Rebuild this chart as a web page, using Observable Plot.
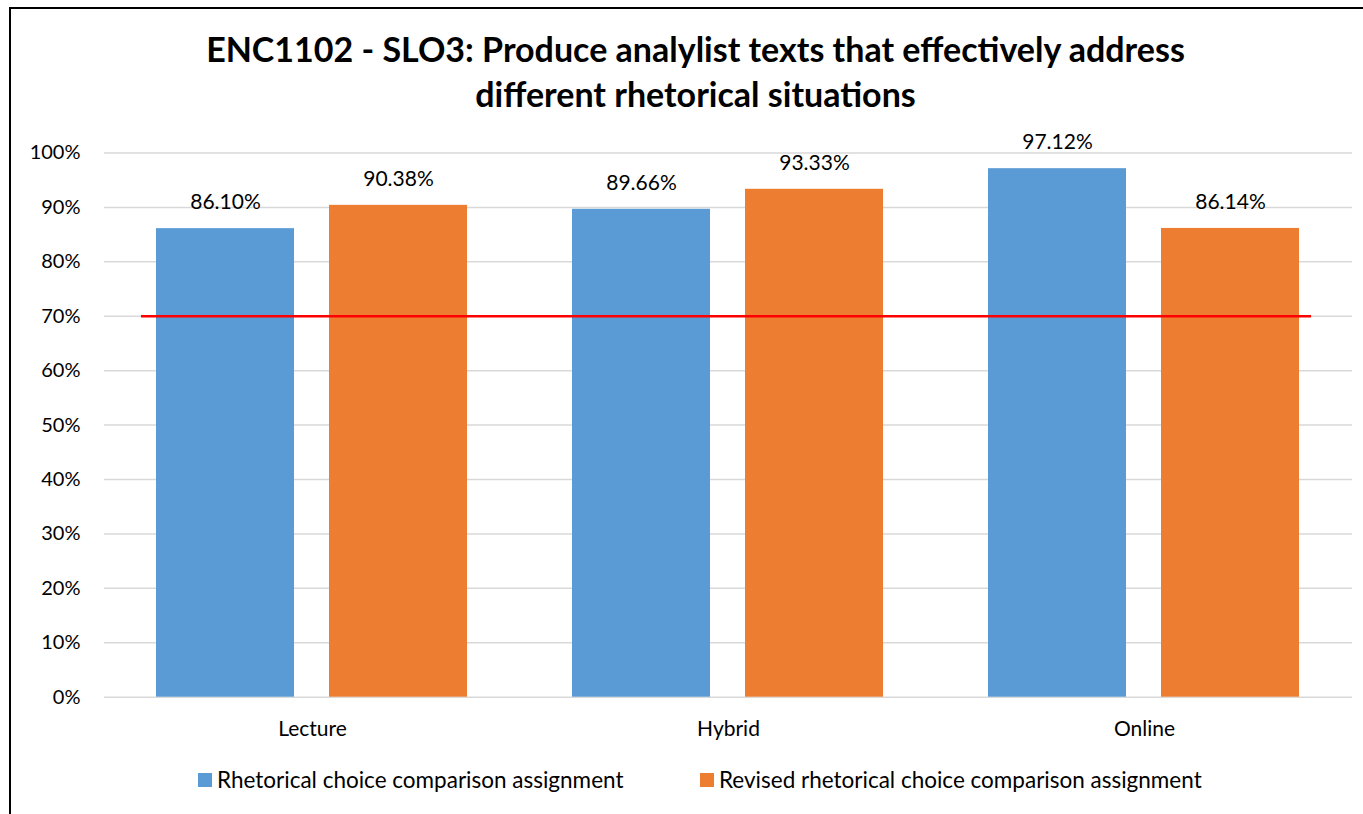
<!DOCTYPE html>
<html>
<head>
<meta charset="utf-8">
<script src="https://cdn.jsdelivr.net/npm/d3@7"></script>
<script src="https://cdn.jsdelivr.net/npm/@observablehq/plot@0.6"></script>
<style>
  html, body { margin: 0; padding: 0; background: #fff; overflow: hidden; }
  body { width: 1363px; height: 814px; position: relative; font-family: Lato, "Open Sans", sans-serif; }
  #frame { position: absolute; left: 9px; top: 7px; width: 1400px; height: 900px; border: 2px solid #000; box-sizing: border-box; pointer-events: none; }
  #title { width: 1363px; height: 125px; box-sizing: border-box; padding-top: 26px; padding-left: 28px; text-align: center; font-weight: bold; font-size: 34px; line-height: 45px; color: #000; }
  #chart svg { display: block; }
  #legend { position: relative; height: 30px; line-height: 30px; font-size: 22.5px; color: #000; padding-left: 198px; display: flex; }
  .item { display: flex; align-items: center; }
  .item:first-child { width: 502px; }
  .sw { width: 14px; height: 14px; margin-right: 5px; }
</style>
</head>
<body>
<div id="title">ENC1102 - SLO3: Produce analylist texts that effectively address<br>different rhetorical situations</div>
<div id="chart"></div>
<div id="legend"></div>
<div id="frame"></div>
<script>
const categories = ["Lecture", "Hybrid", "Online"];
const seriesNames = ["Rhetorical choice comparison assignment", "Revised rhetorical choice comparison assignment"];
const rhetoricalValues = [86.10, 89.66, 97.12];
const revisedValues = [90.38, 93.33, 86.14];
const targetValue = 70;
const yTicks = [0, 10, 20, 30, 40, 50, 60, 70, 80, 90, 100];
const colors = ["#5B9BD5", "#ED7D31"];

const data = [];
categories.forEach((c, i) => {
  data.push({category: c, series: seriesNames[0], value: rhetoricalValues[i]});
  data.push({category: c, series: seriesNames[1], value: revisedValues[i]});
});
const targetRows = categories.map(c => ({category: c, value: targetValue}));
const first = categories[0], last = categories[categories.length - 1];

const chart = Plot.plot({
  width: 1363,
  height: 640,
  marginLeft: 103,
  marginRight: 11,
  marginTop: 27.5,
  marginBottom: 68.3,
  style: {fontFamily: "Lato, 'Open Sans', sans-serif", fontSize: "20px", color: "#000", background: "#fff"},
  fx: {domain: categories, padding: 0, label: null},
  x: {domain: seriesNames, paddingInner: 0.2, paddingOuter: 0.3, axis: null},
  y: {domain: [0, 100], ticks: yTicks, label: null},
  color: {domain: seriesNames, range: colors},
  marks: [
    Plot.gridY(yTicks, {stroke: "#D9D9D9", strokeOpacity: 1, strokeWidth: 1.5}),
    Plot.axisY(yTicks, {tickSize: 0, tickPadding: 24, tickFormat: d => d + "%", fontSize: 20, label: null}),
    Plot.axisFx({anchor: "bottom", tickSize: 0, tickPadding: 24, fontSize: 21, label: null}),
    Plot.barY(data, {fx: "category", x: "series", y: "value", fill: "series"}),
    Plot.text(data, {fx: "category", x: "series", y: "value", text: d => d.value.toFixed(2) + "%", dy: -26, fontSize: 21, fill: "#000"}),
    Plot.ruleY(targetRows.filter(d => d.category === first), {fx: "category", y: "value", stroke: "#FF0000", strokeWidth: 2.5, insetLeft: 37}),
    Plot.ruleY(targetRows.filter(d => d.category !== first && d.category !== last), {fx: "category", y: "value", stroke: "#FF0000", strokeWidth: 2.5}),
    Plot.ruleY(targetRows.filter(d => d.category === last), {fx: "category", y: "value", stroke: "#FF0000", strokeWidth: 2.5, insetRight: 41})
  ]
});
document.getElementById("chart").appendChild(chart);

const legend = document.getElementById("legend");
seriesNames.forEach((s, i) => {
  const item = document.createElement("div");
  item.className = "item";
  const sw = document.createElement("span");
  sw.className = "sw";
  sw.style.background = colors[i];
  const t = document.createElement("span");
  t.textContent = s;
  item.appendChild(sw);
  item.appendChild(t);
  legend.appendChild(item);
});
</script>
</body>
</html>
